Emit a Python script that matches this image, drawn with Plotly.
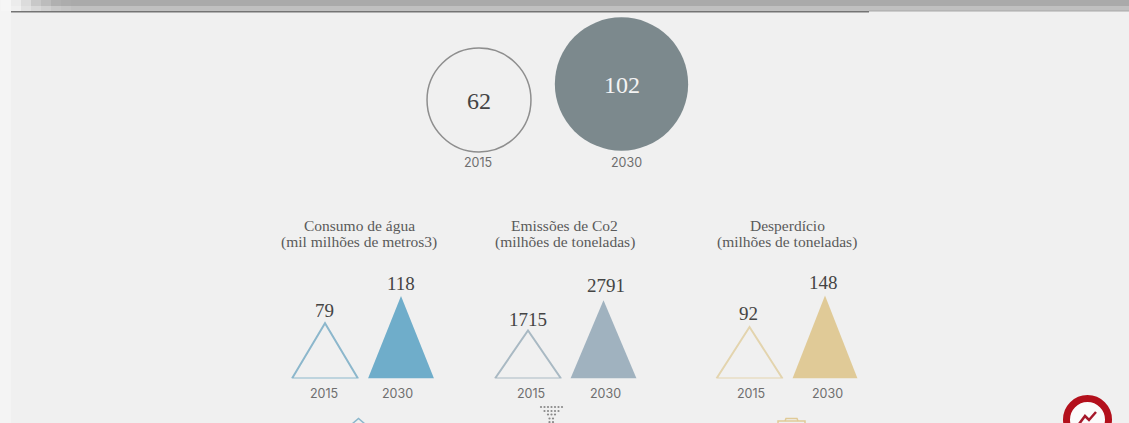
import plotly.graph_objects as go

# data
years = ["2015", "2030"]
circle_values = [62, 102]
agua_values = [79, 118]
co2_values = [1715, 2791]
desperdicio_values = [92, 148]
panel_titles = [
    ["Consumo de água", "(mil milhões de metros3)"],
    ["Emissões de Co2", "(milhões de toneladas)"],
    ["Desperdício", "(milhões de toneladas)"],
]

SERIF = "Liberation Serif"
SANS = "Inter"
W, H = 1129, 423
BASE_Y = 378.5
PANEL_TOP = 258

fig = go.Figure()

# background strip at the top of the page
shapes = [
    dict(type="rect", x0=0, x1=W, y0=0, y1=6, fillcolor="#aaaaaa", line_width=0, layer="below"),
    dict(type="rect", x0=0, x1=W, y0=6, y1=11, fillcolor="#c0c0c0", line_width=0, layer="below"),
    dict(type="rect", x0=11, x1=869, y0=11, y1=12.5, fillcolor="#747474", line_width=0, layer="below"),
    dict(type="rect", x0=869, x1=W, y0=10.5, y1=11.5, fillcolor="#a8a8a8", line_width=0, layer="below"),
    dict(type="rect", x0=0, x1=11, y0=0, y1=H, fillcolor="#f4f4f4", line_width=0, layer="below"),
]
fade_top = ["#f6f6f6", "#ececec", "#dcdcdc", "#c8c8c8", "#bcbcbc", "#b0b0b0", "#acacac"]
fade_low = ["#f6f6f6", "#f0f0f0", "#e2e2e2", "#d8d8d8", "#d0d0d0", "#c8c8c8", "#c4c4c4"]
for i in range(7):
    shapes.append(dict(type="rect", x0=i * 10 + 1, x1=i * 10 + 11, y0=0, y1=6,
                       fillcolor=fade_top[i], line_width=0, layer="below"))
    shapes.append(dict(type="rect", x0=i * 10 + 1, x1=i * 10 + 11, y0=6, y1=11,
                       fillcolor=fade_low[i], line_width=0, layer="below"))

# circles, area follows the value
circle_x = [479, 621.5]
circle_y = [100, 84]
circle_fill = ["rgba(0,0,0,0)", "#7c898d"]
circle_line = [1.5, 0]
circle_text = ["#444444", "#f4f4f4"]

annotations = []
for i, v in enumerate(circle_values):
    fig.add_trace(go.Scatter(
        x=[circle_x[i]], y=[circle_y[i]], mode="markers",
        marker=dict(size=[13.2 * v ** 0.5], color=circle_fill[i], opacity=1,
                    line=dict(color="#8e8e8e", width=circle_line[i])),
        hoverinfo="skip",
    ))
    annotations.append(dict(x=circle_x[i], y=circle_y[i] + 0.5, text=str(v), showarrow=False,
                            xref="x", yref="y",
                            font=dict(family=SERIF, size=24, color=circle_text[i])))

for xpos, year in zip([478, 626.5], years):
    annotations.append(dict(x=xpos, y=162, text=year, showarrow=False, xref="x", yref="y",
                            font=dict(family=SANS, size=12.5, color="#6e6e6e")))

# triangle panels, height follows the value
panels = [
    dict(values=agua_values, apex=[325, 401], half=[33, 33], scale=0.70,
         outline="#8cb7cc", fill="#6fadca", title_x=359, year_x=[324, 397],
         label_x=[324, 400.5], label_shift=[0, 0]),
    dict(values=co2_values, apex=[528, 603.5], half=[33, 33], scale=0.028,
         outline="#a9b9c3", fill="#a0b2bf", title_x=564.5, year_x=[531, 605],
         label_x=[528, 605.5], label_shift=[-2, 2]),
    dict(values=desperdicio_values, apex=[749.5, 825], half=[33, 32.5], scale=0.56,
         outline="#e3d4ae", fill="#e0ca97", title_x=787, year_x=[751, 827],
         label_x=[748, 823.5], label_shift=[1, 1]),
]

layout_axes = {}
for n, p in enumerate(panels):
    yname = f"y{n + 2}"
    layout_axes[f"yaxis{n + 2}"] = dict(
        domain=[(H - BASE_Y) / H, (H - PANEL_TOP) / H],
        range=[0, (BASE_Y - PANEL_TOP) / p["scale"]],
        visible=False, fixedrange=True,
    )
    # open triangle for 2015, solid for 2030
    for i, v in enumerate(p["values"]):
        cx, hw = p["apex"][i], p["half"][i]
        fig.add_trace(go.Scatter(
            x=[cx - hw, cx, cx + hw, cx - hw], y=[0, v, 0, 0], yaxis=yname,
            mode="lines", line=dict(color=p["outline"] if i == 0 else p["fill"], width=2 if i == 0 else 0),
            fill="none" if i == 0 else "toself", fillcolor=p["fill"], hoverinfo="skip",
        ))
        annotations.append(dict(x=p["label_x"][i], y=v, text=str(v), showarrow=False,
                                xref="x", yref=yname, yanchor="bottom", yshift=p["label_shift"][i],
                                font=dict(family=SERIF, size=19, color="#444444")))
        annotations.append(dict(x=p["year_x"][i], y=393, text=years[i], showarrow=False,
                                xref="x", yref="y",
                                font=dict(family=SANS, size=12.5, color="#6e6e6e")))
    for line_y, line in zip([225, 242], panel_titles[n]):
        annotations.append(dict(x=p["title_x"], y=line_y, text=line, showarrow=False,
                                xref="x", yref="y",
                                font=dict(family=SERIF, size=15.5, color="#5a5a5a")))

# cut off icons along the bottom edge
shapes.append(dict(type="path", path="M 352 424 L 358.5 418.5 L 365 424", line=dict(color="#8cb7cc", width=1.5)))
shapes.append(dict(type="rect", x0=778, x1=805, y0=421, y1=425, line=dict(color="#e0ca97", width=1.5)))
shapes.append(dict(type="path", path="M 785 421 L 786 418.5 L 797 418.5 L 798 421", line=dict(color="#e0ca97", width=1.5)))
dots_x = [541, 544.5, 548, 551.5, 555, 558.5, 562, 544.5, 548, 551.5, 555, 558.5, 548, 551.5, 555, 549.5, 553, 549.5, 553]
dots_y = [407, 407, 407, 407, 407, 407, 407, 411, 411, 411, 411, 411, 414.5, 414.5, 414.5, 418.5, 418.5, 422, 422]
fig.add_trace(go.Scatter(x=dots_x, y=dots_y, mode="markers",
                         marker=dict(size=2.2, color="#8a8a8a"), hoverinfo="skip"))

# red badge in the corner
shapes.append(dict(type="circle", x0=1066.5, x1=1108.5, y0=398.5, y1=440.5,
                   fillcolor="#fbfbfb", line=dict(color="#b3101c", width=7)))
shapes.append(dict(type="path", path="M 1079 424 L 1085 416 L 1089 420 L 1096 412",
                   line=dict(color="#a5182a", width=2.5)))

fig.update_layout(
    width=W, height=H, margin=dict(l=0, r=0, t=0, b=0),
    paper_bgcolor="#f0f0f0", plot_bgcolor="rgba(0,0,0,0)", showlegend=False,
    xaxis=dict(range=[0, W], visible=False, fixedrange=True),
    yaxis=dict(range=[H, 0], visible=False, fixedrange=True),
    shapes=[dict(s, xref="x", yref="y") for s in shapes],
    annotations=annotations,
    **layout_axes,
)

fig.write_html("out.html", config={"displayModeBar": False},
               post_script="document.body.style.margin='0';document.body.style.overflow='hidden';")
